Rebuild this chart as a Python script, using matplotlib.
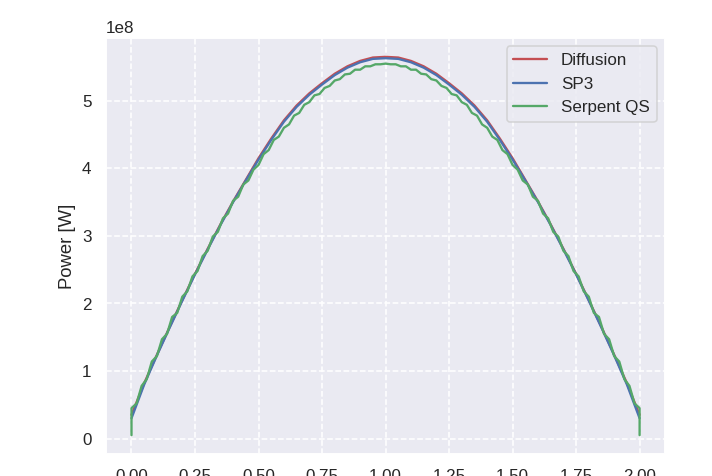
import numpy as np
import matplotlib
matplotlib.use('Agg')
import matplotlib.pyplot as plt
import seaborn as sns

# Power profiles along the core (values in 1e8 W)
x_det = [0.00, 0.05, 0.10, 0.15, 0.20, 0.25, 0.30, 0.35, 0.40, 0.45, 0.50,
         0.55, 0.60, 0.65, 0.70, 0.75, 0.80, 0.85, 0.90, 0.95, 1.00,
         1.05, 1.10, 1.15, 1.20, 1.25, 1.30, 1.35, 1.40, 1.45, 1.50,
         1.55, 1.60, 1.65, 1.70, 1.75, 1.80, 1.85, 1.90, 1.95, 2.00]

diffusion = [0.35, 0.82, 1.24, 1.65, 2.05, 2.44, 2.81, 3.17, 3.51, 3.83, 4.15,
             4.44, 4.71, 4.93, 5.11, 5.26, 5.40, 5.51, 5.59, 5.64, 5.65,
             5.64, 5.59, 5.51, 5.40, 5.26, 5.11, 4.93, 4.71, 4.44, 4.15,
             3.83, 3.51, 3.17, 2.81, 2.44, 2.05, 1.65, 1.24, 0.82, 0.35]

sp3 = [0.30, 0.80, 1.23, 1.64, 2.04, 2.43, 2.80, 3.16, 3.50, 3.82, 4.13,
       4.42, 4.69, 4.91, 5.09, 5.24, 5.38, 5.49, 5.57, 5.62, 5.63,
       5.62, 5.57, 5.49, 5.38, 5.24, 5.09, 4.91, 4.69, 4.42, 4.13,
       3.82, 3.50, 3.16, 2.80, 2.43, 2.04, 1.64, 1.23, 0.80, 0.30]

x_mc = [0.00, 0.00, 0.02, 0.04, 0.06, 0.08, 0.10, 0.12, 0.14, 0.16, 0.18,
        0.20, 0.22, 0.24, 0.26, 0.28, 0.30, 0.32, 0.34, 0.36, 0.38,
        0.40, 0.42, 0.44, 0.46, 0.48, 0.50, 0.52, 0.54, 0.56, 0.58,
        0.60, 0.62, 0.64, 0.66, 0.68, 0.70, 0.72, 0.74, 0.76, 0.78,
        0.80, 0.82, 0.84, 0.86, 0.88, 0.90, 0.92, 0.94, 0.96, 0.98,
        1.00, 1.02, 1.04, 1.06, 1.08, 1.10, 1.12, 1.14, 1.16, 1.18,
        1.20, 1.22, 1.24, 1.26, 1.28, 1.30, 1.32, 1.34, 1.36, 1.38,
        1.40, 1.42, 1.44, 1.46, 1.48, 1.50, 1.52, 1.54, 1.56, 1.58,
        1.60, 1.62, 1.64, 1.66, 1.68, 1.70, 1.72, 1.74, 1.76, 1.78,
        1.80, 1.82, 1.84, 1.86, 1.88, 1.90, 1.92, 1.94, 1.96, 1.98,
        2.00, 2.00]

serpent = [0.05, 0.45, 0.52, 0.78, 0.88, 1.14, 1.22, 1.47, 1.55, 1.80, 1.86,
           2.10, 2.18, 2.40, 2.48, 2.70, 2.78, 2.99, 3.06, 3.26, 3.33,
           3.52, 3.58, 3.76, 3.82, 3.98, 4.05, 4.21, 4.27, 4.42, 4.47,
           4.60, 4.65, 4.78, 4.82, 4.94, 4.98, 5.08, 5.10, 5.19, 5.22,
           5.30, 5.32, 5.39, 5.40, 5.46, 5.46, 5.51, 5.51, 5.54, 5.54,
           5.55, 5.54, 5.54, 5.51, 5.51, 5.46, 5.46, 5.40, 5.39, 5.32,
           5.30, 5.22, 5.19, 5.10, 5.08, 4.98, 4.94, 4.82, 4.78, 4.65,
           4.60, 4.47, 4.42, 4.27, 4.21, 4.05, 3.98, 3.82, 3.76, 3.58,
           3.52, 3.33, 3.26, 3.06, 2.99, 2.78, 2.70, 2.48, 2.40, 2.18,
           2.10, 1.86, 1.80, 1.55, 1.47, 1.22, 1.14, 0.88, 0.78, 0.52,
           0.45, 0.05]

sns.set_theme(style='darkgrid', color_codes=True, rc={'grid.linestyle': '--'})
plt.rcParams['font.family'] = ['Liberation Sans', 'DejaVu Sans']

fig = plt.figure(figsize=(6.4, 4.28), dpi=111.25)
ax = fig.add_axes([0.149, 0.046, 0.785, 0.874])

ax.plot(x_det, np.array(diffusion) * 1e8, 'r', label='Diffusion')
ax.plot(x_det, np.array(sp3) * 1e8, 'b', label='SP3')
ax.plot(x_mc, np.array(serpent) * 1e8, 'g', label='Serpent QS')

ax.set_ylabel('Power [W]')
ax.set_xticks([0.0, 0.25, 0.5, 0.75, 1.0, 1.25, 1.5, 1.75, 2.0])
ax.legend(loc='upper right')

fig.savefig('out.png', dpi=111.25)
